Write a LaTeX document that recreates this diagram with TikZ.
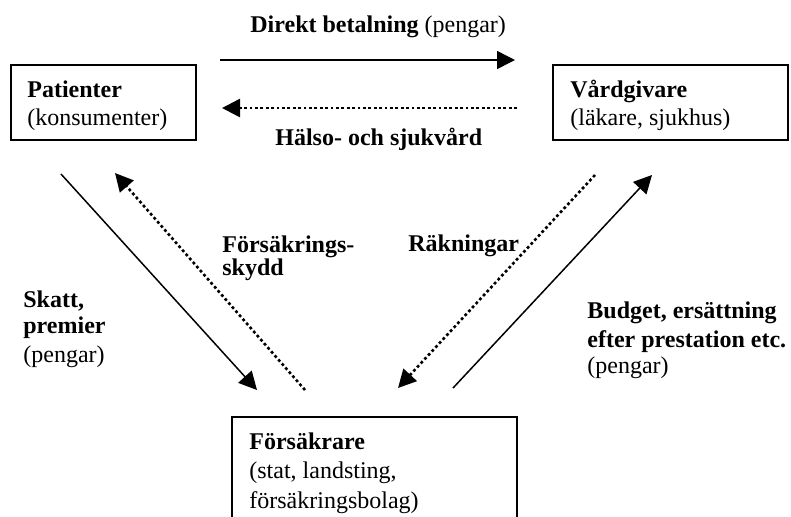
\documentclass[tikz,border=0pt]{standalone}
\usepackage{fontspec}
\setmainfont{Liberation Serif}
\usetikzlibrary{arrows.meta}
\begin{document}
\begin{tikzpicture}[x=0.5pt,y=-0.5pt,
  box/.style={draw, line width=0.65pt, inner sep=0pt},
  lbl/.style={anchor=base west, inner sep=0pt, font=\fontsize{12}{14}\selectfont},
  flow/.style={line width=0.75pt, -{Triangle[length=9pt,width=9pt]}},
  info/.style={line width=1.3pt, dash pattern=on 1.4pt off 1.3pt, -{Triangle[length=9pt,width=9pt]}}]
\clip (0,0) rectangle (791,516);
% boxes
\node[box, minimum width=92.5pt, minimum height=37.5pt] (pat) at (103.5,102.5) {};
\node[box, minimum width=117.5pt, minimum height=37.5pt] (vard) at (670.5,102.5) {};
\node[box, minimum width=142.5pt, minimum height=61.5pt] (fors) at (374.5,478.5) {};
% box texts
\node[lbl] (patA) at (27,97) {\textbf{Patienter}};
\node[lbl] (patB) at (27,125) {(konsumenter)};
\node[lbl] (vardA) at (570,97) {\textbf{Vårdgivare}};
\node[lbl] (vardB) at (570,125) {(läkare, sjukhus)};
\node[lbl] (forsA) at (249,449) {\textbf{Försäkrare}};
\node[lbl] (forsB) at (249,478) {(stat, landsting,};
\node[lbl] (forsC) at (249,508) {försäkringsbolag)};
% connector labels
\node[lbl] (dbl) at (250,32) {\textbf{Direkt betalning} (pengar)};
\node[lbl] (hsl) at (275,145) {\textbf{Hälso- och sjukvård}};
\node[lbl] (fsA) at (222,252) {\textbf{Försäkrings-}};
\node[lbl] (fsB) at (222,275) {\textbf{skydd}};
\node[lbl] (skA) at (23,307) {\textbf{Skatt,}};
\node[lbl] (skB) at (23,333) {\textbf{premier}};
\node[lbl] (skC) at (23,362) {(pengar)};
\node[lbl] (rkl) at (408,251) {\textbf{Räkningar}};
\node[lbl] (buA) at (587,318) {\textbf{Budget, ersättning}};
\node[lbl] (buB) at (587,347) {\textbf{efter prestation etc.}};
\node[lbl] (buC) at (587,373) {(pengar)};
% connector ends
\coordinate (dbS) at (220,60);  \coordinate (dbE) at (515,60);
\coordinate (hsS) at (517,108); \coordinate (hsE) at (222,108);
\coordinate (skS) at (61,174);  \coordinate (skE) at (257,390);
\coordinate (fsS) at (305,390); \coordinate (fsE) at (115,173);
\coordinate (rkS) at (595,175); \coordinate (rkE) at (398,388);
\coordinate (buS) at (453,388); \coordinate (buE) at (652,175);
% connectors
\draw[flow] (dbS) -- (dbE);
\draw[info] (hsS) -- (hsE);
\draw[flow] (skS) -- (skE);
\draw[info] (fsS) -- (fsE);
\draw[info] (rkS) -- (rkE);
\draw[flow] (buS) -- (buE);
\end{tikzpicture}
\end{document}
